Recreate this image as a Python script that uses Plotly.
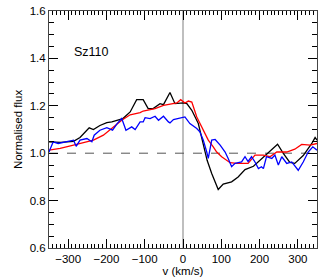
import plotly.graph_objects as go

# Black spectrum
v_black = [-350, -320, -286, -269, -245, -234, -217, -199, -186, -164, -157, -138, -121, -104, -91, -78,
           -60, -51, -34, -21, 1, 10, 23, 40, 53, 63, 75, 92, 105, 127, 144, 162, 184, 201, 223, 247,
           262, 279, 292, 314, 336, 345, 350]
f_black = [1.048, 1.046, 1.05, 1.066, 1.107, 1.10, 1.117, 1.129, 1.132, 1.142, 1.146, 1.174, 1.226, 1.226,
           1.188, 1.188, 1.209, 1.205, 1.256, 1.209, 1.212, 1.209, 1.181, 1.125, 1.041, 0.97, 0.914, 0.847,
           0.87, 0.879, 0.90, 0.931, 0.945, 0.97, 1.001, 1.038, 0.999, 0.961, 0.957, 0.99, 1.04, 1.066, 1.055]

# Red spectrum
v_red = [-350, -321, -286, -260, -234, -208, -182, -160, -138, -112, -104, -73, -51, -34, -16, -6, 5, 14,
         23, 36, 49, 57, 66, 79, 88, 101, 114, 123, 140, 170, 188, 210, 227, 245, 271, 292, 310, 332, 350]
f_red = [1.013, 1.02, 1.034, 1.043, 1.055, 1.076, 1.111, 1.139, 1.162, 1.171, 1.178, 1.188, 1.202, 1.206,
         1.212, 1.226, 1.212, 1.22, 1.216, 1.153, 1.111, 1.09, 1.055, 1.027, 1.005, 0.985, 0.97, 0.96,
         0.957, 0.957, 0.992, 0.992, 0.985, 1.005, 1.005, 1.017, 1.037, 1.034, 1.041]

# Blue spectrum
v_blue = [-350, -339, -326, -308, -295, -286, -279, -269, -251, -238, -232, -217, -199, -184, -172, -160,
          -149, -134, -125, -112, -104, -99, -86, -73, -64, -51, -38, -34, -25, -12, 5, 18, 36, 44, 53,
          62, 66, 75, 84, 97, 110, 118, 127, 136, 153, 162, 170, 179, 188, 197, 205, 210, 218, 232, 240,
          249, 258, 271, 284, 301, 314, 327, 339, 350]
f_blue = [1.005, 1.048, 1.041, 1.048, 1.052, 1.055, 1.029, 1.055, 1.062, 1.048, 1.076, 1.097, 1.108, 1.097,
          1.125, 1.146, 1.097, 1.111, 1.10, 1.132, 1.132, 1.15, 1.146, 1.156, 1.139, 1.156, 1.132, 1.128,
          1.142, 1.146, 1.153, 1.125, 1.104, 1.09, 1.055, 1.005, 0.978, 1.055, 1.058, 1.034, 1.005, 0.978,
          0.943, 0.957, 0.963, 0.985, 0.965, 0.985, 0.963, 0.935, 0.943, 0.935, 0.985, 0.978, 0.992, 0.95,
          0.985, 0.957, 0.963, 0.928, 0.963, 1.005, 1.027, 1.013]

x_range = [-350, 350]
y_range = [0.5999999, 1.6000001]

label = "Sz110"
x_title = "v (km/s)"
y_title = "Normalised flux"

FONT = "Liberation Sans, Arial, Helvetica, sans-serif"
TC = "black"

fig = go.Figure()
fig.add_trace(go.Scatter(x=v_black, y=f_black, mode="lines", line=dict(color="black", width=1.3)))
fig.add_trace(go.Scatter(x=v_red, y=f_red, mode="lines", line=dict(color="#ff0000", width=1.3)))
fig.add_trace(go.Scatter(x=v_blue, y=f_blue, mode="lines", line=dict(color="#0000ff", width=1.3)))
# transparent helper trace so the mirrored top/right tick axes get drawn
fig.add_trace(go.Scatter(x=v_black, y=f_black, xaxis="x2", yaxis="y2", mode="lines",
                         line=dict(width=1, color="rgba(0,0,0,0)"), hoverinfo="skip"))

fig.add_shape(type="line", x0=0, x1=0, y0=0, y1=1, xref="x", yref="paper",
              line=dict(color="#aaaaaa", width=1.5), layer="below")
fig.add_shape(type="line", x0=0, x1=1, y0=1.0, y1=1.0, xref="paper", yref="y",
              line=dict(color="#555555", width=1, dash="dash"), layer="below")

fig.add_annotation(x=-290, y=1.425, text=label, showarrow=False, xanchor="left", yanchor="middle",
                   font=dict(size=12.5, color="black", family=FONT))

minor_x = dict(dtick=10, ticks="inside", ticklen=4, tickcolor=TC, tickwidth=1, showgrid=False)
minor_y = dict(dtick=0.05, ticks="inside", ticklen=5, tickcolor=TC, tickwidth=1, showgrid=False)

fig.update_layout(
    template="none",
    width=327, height=280,
    margin=dict(l=49, r=10, t=10.5, b=32, pad=0),
    paper_bgcolor="white", plot_bgcolor="white",
    showlegend=False,
    font=dict(family=FONT, size=11.5, color="black"),
    xaxis=dict(range=x_range, tickmode="linear", dtick=100, tick0=0, ticks="inside", ticklen=9,
               tickcolor=TC, tickwidth=1.2,
               showline=True, linecolor="#444", linewidth=1, mirror="allticks", showgrid=False,
               zeroline=False, automargin=False, minor=minor_x,
               title=dict(text=x_title, standoff=0, font=dict(size=11.5))),
    yaxis=dict(range=y_range, tickmode="linear", dtick=0.2, tick0=0, ticks="inside", ticklen=9,
               tickcolor=TC, tickwidth=1.2,
               showline=True, linecolor="#444", linewidth=1, mirror="allticks", showgrid=False,
               zeroline=False, tickformat=".1f", automargin=False, minor=minor_y,
               title=dict(text=y_title, standoff=4, font=dict(size=11.5))),
    xaxis2=dict(range=x_range, overlaying="x", side="top", tickmode="linear", dtick=100, tick0=0,
                ticks="inside", ticklen=9, tickcolor=TC, tickwidth=1.2, showticklabels=False,
                showgrid=False, zeroline=False, showline=False, anchor="y2", automargin=False,
                minor=minor_x),
    yaxis2=dict(range=y_range, overlaying="y", side="right", tickmode="linear", dtick=0.2, tick0=0,
                ticks="inside", ticklen=9, tickcolor=TC, tickwidth=1.2, showticklabels=False,
                showgrid=False, zeroline=False, showline=False, anchor="x2", automargin=False,
                minor=minor_y),
)

fig.write_html("out.html", config={"displayModeBar": False},
               post_script="document.body.style.margin='0';")
